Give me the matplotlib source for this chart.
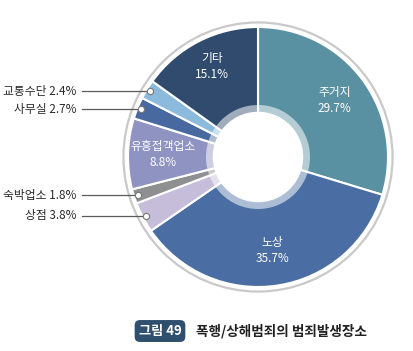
import numpy as np
import matplotlib.pyplot as plt
from matplotlib.patches import Circle, Wedge

plt.rcParams['font.family'] = ['Noto Sans CJK KR', 'DejaVu Sans']

# data (clockwise from 12 o'clock)
places = ['주거지', '노상', '상점', '숙박업소', '유흥접객업소', '사무실', '교통수단', '기타']
shares = [29.7, 35.7, 3.8, 1.8, 8.8, 2.7, 2.4, 15.1]
colors = ['#5a91a2', '#4a6ea3', '#c5bdd9', '#8e8f91', '#8f93c1', '#4769a0', '#8bbadc', '#304b6d']
inside = ['주거지', '노상', '유흥접객업소', '기타']
outside = ['교통수단', '사무실', '숙박업소', '상점']

W, H = 413, 351
cx, cy, R = 258, 157, 130  # pie centre / radius in pixels

fig = plt.figure(figsize=(W / 100, H / 100), dpi=100)
ax = fig.add_axes([0, 0, 1, 1])

hole = 0.34
wedges, _ = ax.pie(shares, colors=colors, startangle=90, counterclock=False,
                   radius=1.0, wedgeprops=dict(width=1 - hole, edgecolor='white', linewidth=1.5))

# pie() resets the limits, so set them afterwards
ax.set_xlim(-cx / R, (W - cx) / R)
ax.set_ylim(-(H - cy) / R, cy / R)
ax.set_aspect('equal')
ax.axis('off')

# light ring around the hole and outer grey ring
ax.add_patch(Wedge((0, 0), 0.40, 0, 360, width=0.06, facecolor='white', alpha=0.55, edgecolor='none'))
ax.add_patch(Circle((0, 0), 1.035, facecolor='none', edgecolor='#c9c9c9', linewidth=1.6))

for name, val, w in zip(places, shares, wedges):
    ang = np.deg2rad((w.theta1 + w.theta2) / 2)
    if name in inside:
        r = 0.78 if name == '기타' else 0.73
        ax.text(r * np.cos(ang), r * np.sin(ang), f'{name}\n{val}%', color='white',
                fontsize=8.5, fontweight='medium', ha='center', va='center', linespacing=1.3)
    else:
        r = 0.97
        px, py = r * np.cos(ang), r * np.sin(ang)
        x0 = (82 - cx) / R
        ax.plot([x0, px], [py, py], color='#5a5a5a', linewidth=0.9, zorder=3)
        ax.plot(px, py, 'o', markersize=4.5, markerfacecolor='white',
                markeredgecolor='#777777', markeredgewidth=0.8, zorder=4)
        ax.text(x0 - 0.04, py, f'{name} {val}%', color='#2a2a2a', fontsize=8.5,
                fontweight='medium', ha='right', va='center')

fig.text(160 / W, 1 - 331 / H, '그림 49', color='white', fontsize=9.5, fontweight='bold',
         ha='center', va='center',
         bbox=dict(boxstyle='round,pad=0.3,rounding_size=0.4', facecolor='#2f4f6e', edgecolor='none'))
fig.text(196 / W, 1 - 331 / H, '폭행/상해범죄의 범죄발생장소', color='#222222', fontsize=9.8,
         fontweight='bold', ha='left', va='center')

fig.savefig('out.png', dpi=100)
